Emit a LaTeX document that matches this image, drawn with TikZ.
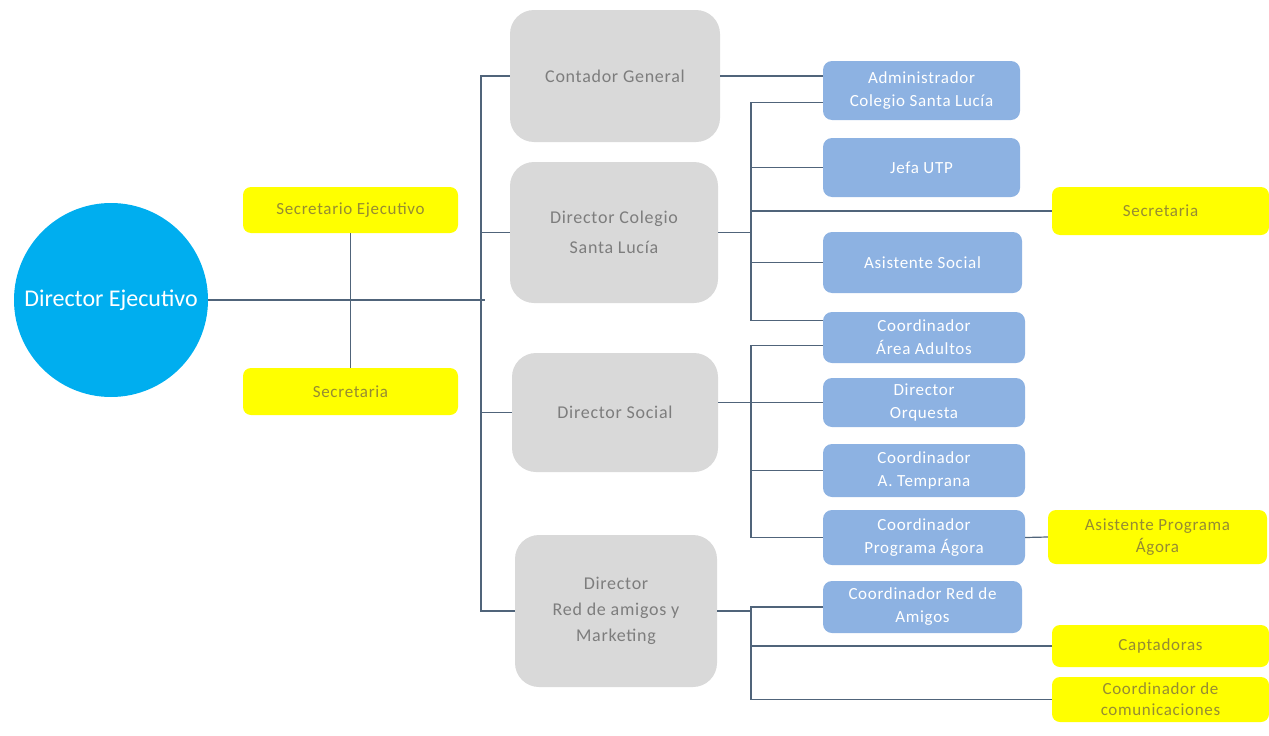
\documentclass[tikz,border=0pt]{standalone}
\usepackage{fontspec}
\setmainfont{Carlito}[LetterSpace=4]
\newfontfamily\circfont{Carlito}
\definecolor{azulclaro}{RGB}{0,174,239}
\definecolor{grisbox}{RGB}{217,217,217}
\definecolor{gristxt}{RGB}{125,125,125}
\definecolor{azulbox}{RGB}{141,178,226}
\definecolor{amarillo}{RGB}{255,255,0}
\definecolor{olivo}{RGB}{150,140,50}
\definecolor{linea}{RGB}{80,100,122}
\begin{document}
\begin{tikzpicture}[x=1pt,y=-1pt,
    gris/.style={fill=grisbox,rounded corners=24pt,text=gristxt,align=center,font=\fontsize{18}{30}\selectfont,inner sep=0pt},
    azul/.style={fill=azulbox,rounded corners=9pt,text=white,align=center,font=\fontsize{17}{23}\selectfont,inner sep=0pt},
    amar/.style={fill=amarillo,rounded corners=8pt,text=olivo,align=center,font=\fontsize{17}{22}\selectfont,inner sep=0pt},
    con/.style={draw=linea,line width=1.2pt}]
    \useasboundingbox (0,0) rectangle (1269,736);
    \node[circle,fill=azulclaro,minimum size=194pt,text=white,font=\circfont\fontsize{24}{26}\selectfont,inner sep=0pt] (dir) at (111,300) {Director Ejecutivo};
    \node[amar,minimum width=215pt,minimum height=46pt] (secej) at (350.5,210) {Secretario Ejecutivo};
    \node[amar,minimum width=215pt,minimum height=47pt] (sec1) at (350.5,391.5) {Secretaria};
    \node[gris,minimum width=210pt,minimum height=132pt] (cont) at (615,76) {Contador General};
    \node[gris,minimum width=208pt,minimum height=141pt] (col) at (614,232.5) {Director Colegio\\Santa Lucía};
    \node[gris,minimum width=206pt,minimum height=119pt] (soc) at (615,412.5) {Director Social};
    \node[gris,minimum width=202pt,minimum height=152pt,font=\fontsize{18}{26}\selectfont] (red) at (616,611) {Director\\Red de amigos y\\Marketing};
    \node[azul,minimum width=197pt,minimum height=59pt] (adm) at (921.5,90.5) {Administrador\\Colegio Santa Lucía};
    \node[azul,minimum width=197pt,minimum height=59pt] (utp) at (921.5,167.5) {Jefa UTP};
    \node[amar,minimum width=217pt,minimum height=48pt] (sec2) at (1160.5,211) {Secretaria};
    \node[azul,minimum width=199pt,minimum height=61pt] (asis) at (922.5,262.5) {Asistente Social};
    \node[azul,minimum width=202pt,minimum height=51pt] (adul) at (924,337.5) {Coordinador\\Área Adultos};
    \node[azul,minimum width=202pt,minimum height=49pt] (orq) at (924,402.5) {Director\\Orquesta};
    \node[azul,minimum width=202pt,minimum height=53pt] (temp) at (924,470.5) {Coordinador\\A. Temprana};
    \node[azul,minimum width=202pt,minimum height=55pt] (agora) at (924,537.5) {Coordinador\\Programa Ágora};
    \node[amar,minimum width=219pt,minimum height=54pt] (asag) at (1157.5,537) {Asistente Programa\\Ágora};
    \node[azul,minimum width=199pt,minimum height=52pt] (ramig) at (922.5,607) {Coordinador Red de\\Amigos};
    \node[amar,minimum width=217pt,minimum height=42pt] (capt) at (1160.5,646) {Captadoras};
    \node[amar,minimum width=217pt,minimum height=45pt,font=\fontsize{17}{21}\selectfont] (comu) at (1160.5,699.5) {Coordinador de\\comunicaciones};
    \coordinate (busA) at (481,300);
    \coordinate (busB) at (751,232);
    \draw[con] (dir.east) -- ([xshift=4pt]busA);
    \draw[con] (secej.south) -- (sec1.north);
    \draw[con] (cont.west) -| (red.west -| busA) -- (red.west);
    \draw[con] (col.west) -- (col.west -| busA);
    \draw[con] (soc.west) -- (soc.west -| busA);
    \draw[con] (cont.east) -- (cont.east -| adm.west);
    \draw[con] ([yshift=-12pt]adm.west) -| ([yshift=17pt]adul.west -| busB) -- ([yshift=17pt]adul.west);
    \draw[con] (col.east) -- (col.east -| busB);
    \draw[con] (utp.west) -- (utp.west -| busB);
    \draw[con] (sec2.west) -- (sec2.west -| busB);
    \draw[con] (asis.west) -- (asis.west -| busB);
    \draw[con] ([yshift=-8pt]adul.west) -| (agora.west -| busB) -- (agora.west);
    \draw[con] (orq.west) -- (orq.west -| soc.east);
    \draw[con] (temp.west) -- (temp.west -| busB);
    \draw[con] (agora.east) -- (asag.west);
    \draw[con] (ramig.west) -| (comu.west -| busB) -- (comu.west);
    \draw[con] (capt.west) -- (capt.west -| busB);
    \draw[con] (red.east) -- (red.east -| busB);
\end{tikzpicture}
\end{document}
